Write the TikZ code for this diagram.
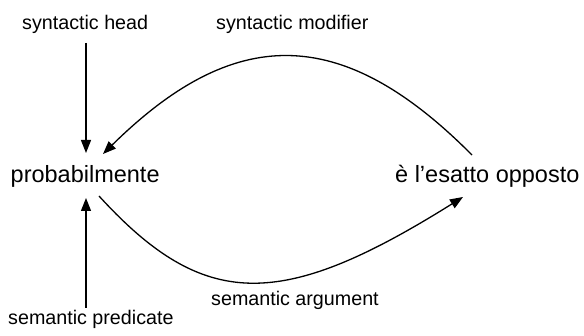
\documentclass[tikz,border=0pt]{standalone}
\usepackage{fontspec}
\setmainfont{Liberation Sans}
\usetikzlibrary{arrows.meta}
\begin{document}
\begin{tikzpicture}[x=1pt,y=-1pt,
  lbl/.style={anchor=base west,inner sep=0pt,font=\fontsize{19.7}{22}\selectfont},
  word/.style={anchor=base west,inner sep=0pt,font=\fontsize{23.5}{27}\selectfont},
  arr/.style={line width=1.3pt,-{Triangle[length=13pt,width=10pt]}}]
\useasboundingbox (0,0) rectangle (584,336);
\node[lbl] (sh) at (22,30) {syntactic head};
\node[lbl] (sm) at (216,30) {syntactic modifier};
\node[word] (pb) at (10.5,183) {probabilmente};
\node[word] (eo) at (395,183) {è l’esatto opposto};
\node[lbl] (sa) at (211,306) {semantic argument};
\node[lbl] (sp) at (8,325) {semantic predicate};
\coordinate (shE) at (86,43);
\coordinate (pbN) at (86,153);
\coordinate (pbNE) at (103,154);
\coordinate (eoN) at (472,155);
\coordinate (pbS) at (86,198);
\coordinate (spN) at (86,308);
\coordinate (pbSE) at (99,196);
\coordinate (eoS) at (463,197);
\draw[arr] (shE) -- (pbN);
\draw[arr] (spN) -- (pbS);
\draw[arr] (eoN) .. controls (340,22) and (233,26) .. (pbNE);
\draw[arr] (pbSE) .. controls (204,311) and (281,311) .. (eoS);
\end{tikzpicture}
\end{document}
